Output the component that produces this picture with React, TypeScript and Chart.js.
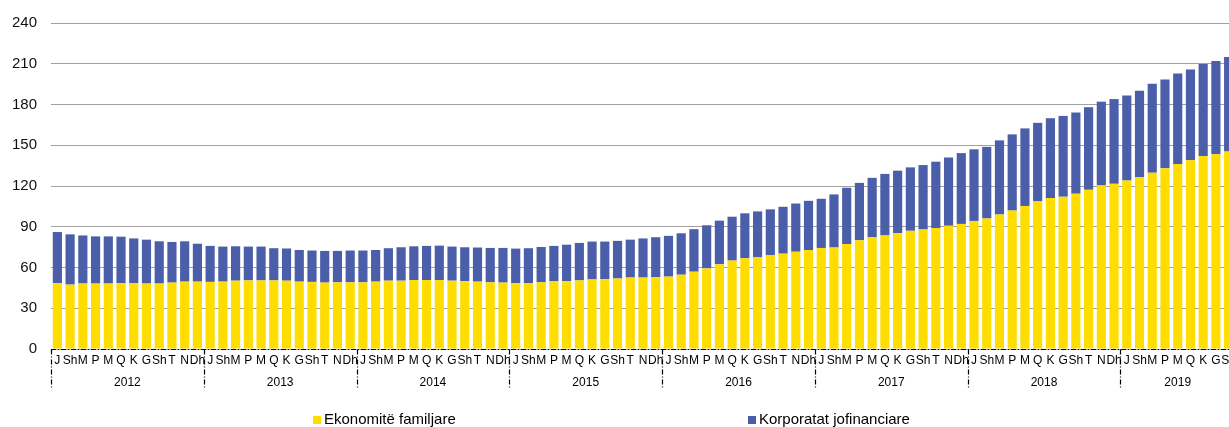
import React, { useEffect, useRef } from 'react';
import { Chart, registerables } from 'chart.js';

Chart.register(...registerables);

const years = ['2012', '2013', '2014', '2015', '2016', '2017', '2018', '2019'];
const monthNames = ['J', 'Sh', 'M', 'P', 'M', 'Q', 'K', 'G', 'Sh', 'T', 'N', 'Dh'];
const monthsPerYear = [12, 12, 12, 12, 12, 12, 12, 9];

const households = [
  48.4, 47.4, 48.2, 48.2, 48.2, 48.4, 48.4, 48.2, 48.2, 48.9, 49.6, 49.6,
  49.4, 49.6, 50.3, 50.5, 50.5, 50.5, 50.3, 49.6, 49.4, 48.9, 49.1, 49.1,
  49.1, 49.6, 50.3, 50.3, 50.8, 50.8, 50.8, 50.3, 50.0, 49.6, 49.1, 48.9,
  48.4, 48.4, 49.1, 49.8, 50.0, 50.5, 51.2, 51.4, 51.9, 52.6, 52.6, 52.9,
  53.3, 54.7, 56.9, 59.3, 62.4, 65.1, 66.8, 67.7, 69.2, 70.2, 71.6, 72.8,
  74.4, 74.7, 77.3, 80.0, 82.2, 83.6, 85.3, 87.0, 88.0, 89.0, 90.7, 92.1,
  94.3, 96.1, 99.0, 101.9, 105.3, 108.7, 111.1, 112.1, 114.3, 117.2, 120.4, 121.6,
  124.0, 126.4, 129.8, 133.0, 136.2, 138.9, 142.0, 143.4, 145.4,
];

const corporates = [
  37.7, 37.0, 35.4, 34.7, 34.7, 34.3, 33.0, 32.3, 31.1, 29.9, 29.7, 27.9,
  26.5, 25.8, 25.3, 24.9, 24.9, 23.7, 23.7, 23.3, 23.1, 23.3, 23.1, 23.4,
  23.4, 23.3, 23.9, 24.6, 24.8, 25.1, 25.3, 25.1, 24.9, 25.1, 25.3, 25.5,
  25.5, 25.8, 26.0, 26.1, 26.8, 27.6, 27.9, 27.7, 27.7, 27.9, 28.8, 29.4,
  30.0, 30.5, 31.3, 31.8, 32.1, 32.3, 33.1, 33.6, 33.6, 34.5, 35.5, 36.3,
  36.2, 39.1, 41.4, 42.3, 43.8, 45.3, 46.0, 46.7, 47.4, 48.9, 50.3, 52.1,
  52.7, 52.7, 54.6, 56.1, 57.1, 57.8, 58.8, 59.5, 59.8, 60.8, 61.7, 62.4,
  62.7, 63.7, 65.4, 65.4, 66.6, 66.8, 67.9, 68.7, 69.6,
];

const seriesNames = ['Ekonomitë familjare', 'Korporatat jofinanciare'];
const seriesColors = ['#FFDD00', '#4A5EA9'];
const yMin = 0;
const yMax = 240;
const yStep = 30;

const FONT = "'Liberation Sans', Arial, sans-serif";

const categoryLabels: string[] = [];
monthsPerYear.forEach((n) => {
  for (let i = 0; i < n; i++) categoryLabels.push(monthNames[i]);
});

const overlayPlugin = {
  id: 'overlay',
  afterDraw(chart: any) {
    const { ctx, chartArea, scales } = chart;
    const x = scales.x;
    const bottom = Math.round(chartArea.bottom) + 0.5;
    const slot = x.getPixelForValue(1) - x.getPixelForValue(0);
    ctx.save();
    ctx.strokeStyle = '#000';
    ctx.lineWidth = 1.2;
    ctx.setLineDash([5, 2, 1, 2]);
    ctx.beginPath();
    ctx.moveTo(chartArea.left, bottom);
    ctx.lineTo(chartArea.right, bottom);
    ctx.stroke();

    ctx.fillStyle = '#000';
    ctx.textAlign = 'center';
    ctx.textBaseline = 'middle';
    let idx = 0;
    years.forEach((yr, k) => {
      const n = monthsPerYear[k];
      const xs = x.getPixelForValue(idx) - slot / 2;
      const xe = x.getPixelForValue(idx + n - 1) + slot / 2;
      const sx = Math.round(xs) + 0.5;
      ctx.beginPath();
      ctx.moveTo(sx, bottom);
      ctx.lineTo(sx, bottom + 40);
      ctx.stroke();
      ctx.font = `12px ${FONT}`;
      for (let i = 0; i < n; i++) {
        ctx.fillText(categoryLabels[idx + i], x.getPixelForValue(idx + i), bottom + 11);
      }
      ctx.fillText(yr, (xs + xe) / 2, bottom + 33.5);
      idx += n;
    });

    // legend
    ctx.setLineDash([]);
    ctx.font = `15px ${FONT}`;
    ctx.textAlign = 'left';
    const legendX = [313, 748];
    const ly = 420;
    seriesNames.forEach((name, i) => {
      ctx.fillStyle = seriesColors[i];
      ctx.fillRect(legendX[i], ly - 4, 8, 8);
      ctx.fillStyle = '#000';
      ctx.fillText(name, legendX[i] + 11, ly);
    });
    ctx.restore();
  },
};

export default function App() {
  const canvasRef = useRef<HTMLCanvasElement | null>(null);

  useEffect(() => {
    if (!canvasRef.current) return;
    const chart = new Chart(canvasRef.current, {
      type: 'bar',
      data: {
        labels: categoryLabels,
        datasets: [
          {
            label: seriesNames[0],
            data: households,
            backgroundColor: seriesColors[0],
            categoryPercentage: 1,
            barPercentage: 0.72,
          },
          {
            label: seriesNames[1],
            data: corporates,
            backgroundColor: seriesColors[1],
            categoryPercentage: 1,
            barPercentage: 0.72,
          },
        ],
      },
      options: {
        responsive: false,
        animation: false,
        layout: { padding: { top: 20, bottom: 78, left: 0, right: 0 } },
        plugins: {
          legend: { display: false },
          tooltip: { enabled: false },
        },
        scales: {
          x: {
            stacked: true,
            display: false,
          },
          y: {
            stacked: true,
            min: yMin,
            max: yMax,
            border: { display: false },
            grid: { color: '#a0a0a0', lineWidth: 1, drawTicks: false },
            ticks: {
              stepSize: yStep,
              padding: 14,
              color: '#111',
              font: { family: FONT, size: 15 },
            },
            afterFit(scale: any) {
              scale.width = 51;
            },
          },
        },
      },
      plugins: [overlayPlugin],
    });
    return () => chart.destroy();
  }, []);

  return (
    <div style={{ position: 'absolute', left: 0, top: 0, width: 1229, height: 427, overflow: 'hidden', background: '#fff' }}>
      <canvas ref={canvasRef} width={1235} height={427} style={{ display: 'block', width: 1235, height: 427 }} />
    </div>
  );
}
